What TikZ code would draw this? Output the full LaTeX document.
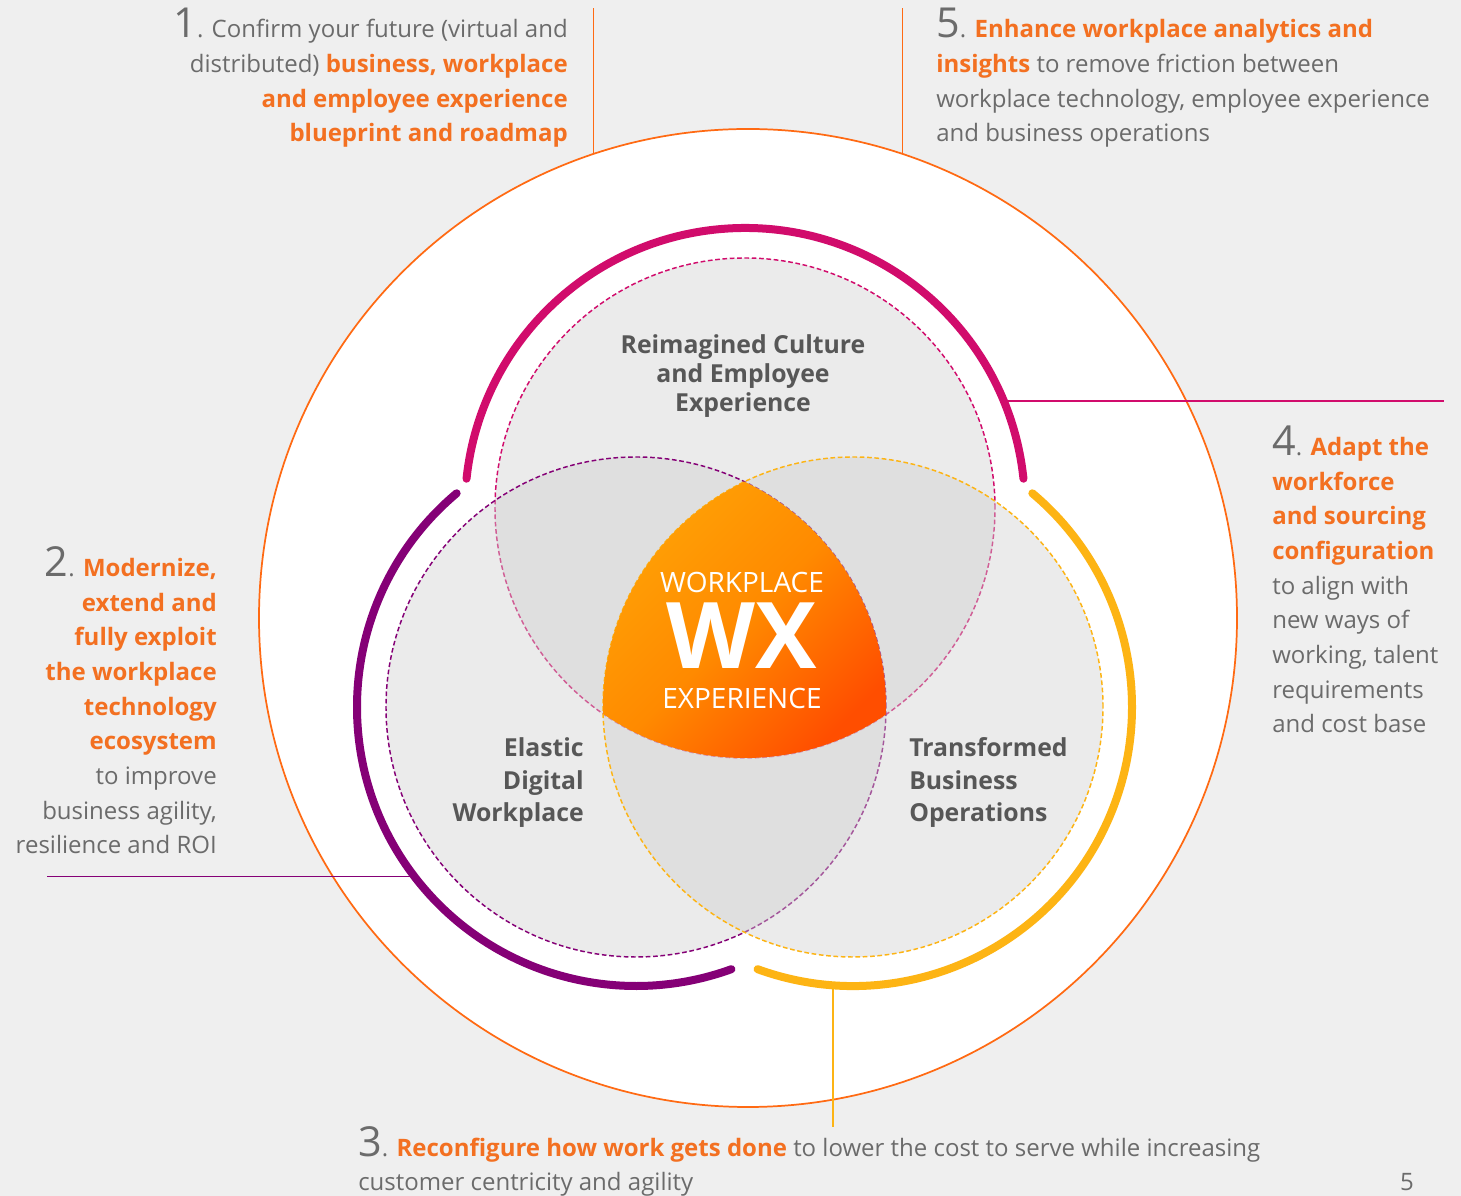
\documentclass[tikz,border=0pt]{standalone}
\usepackage{fontspec}
\setmainfont{Open Sans}
\usetikzlibrary{calc}

\definecolor{wxorange}{HTML}{F37021}
\definecolor{wxline}{HTML}{FF6A13}
\definecolor{wxgray}{HTML}{6B6B6B}
\definecolor{wxdark}{HTML}{575757}
\definecolor{wxmagenta}{HTML}{D10C6C}
\definecolor{wxpurple}{HTML}{850076}
\definecolor{wxyellow}{HTML}{FDB414}
\definecolor{wxbg}{HTML}{EFEFEF}
\definecolor{wxfill}{HTML}{D0D0D0}
\definecolor{wxamber}{HTML}{FFA206}
\definecolor{wxmid}{HTML}{FF8A00}
\definecolor{wxred}{HTML}{FF4E00}

\newcommand{\hot}[1]{{\bfseries\color{wxorange}#1}}
\newcommand{\stepno}[1]{{\fontsize{31}{26}\selectfont #1}}

\begin{document}
\begin{tikzpicture}[x=0.75pt, y=0.75pt,
    body/.style={inner sep=0pt, text=wxgray, font=\fontsize{18}{26}\selectfont},
    zone/.style={inner sep=0pt, text=wxdark, font=\bfseries\fontsize{18.6}{24.5}\selectfont},
    core/.style={inner sep=0pt, text=white, font=\fontsize{21}{21}\selectfont},
    venn/.style={line width=1.1pt, dash pattern=on 3.5pt off 2pt},
    ring/.style={line width=6pt, line cap=round},
    lead/.style={line width=1pt}]
    \fill[wxbg] (0,0) rectangle (1461,1196);
    \useasboundingbox (0,0) rectangle (1461,1196);

    \coordinate (O) at (748,578);
    \coordinate (T) at (745,688);
    \coordinate (L) at (636,489);
    \coordinate (R) at (853,489);

    \draw[wxline, line width=1.3pt, fill=white] (O) circle (489);

    % the three zones
    \fill[wxfill, fill opacity=0.42] (T) circle (250);
    \draw[wxmagenta, venn] (T) circle (250);
    \fill[wxfill, fill opacity=0.42] (L) circle (250);
    \draw[wxpurple, venn] (L) circle (250);
    \fill[wxfill, fill opacity=0.42] (R) circle (250);
    \draw[wxyellow, venn] (R) circle (250);

    % WX core
    \begin{scope}
        \clip (L) circle (250);
        \clip (R) circle (250);
        \clip (T) circle (250);
        \shade[top color=wxamber, bottom color=wxred, middle color=wxmid, shading angle=45] (600,435) rectangle (890,718);
    \end{scope}

    \draw[wxmagenta, ring] ($(T)+(6:280)$) arc[start angle=6, end angle=174, radius=280];
    \draw[wxpurple, ring] ($(L)+(130:279)$) arc[start angle=130, end angle=290, radius=279];
    \draw[wxyellow, ring] ($(R)+(-110:279)$) arc[start angle=-110, end angle=50, radius=279];

    \coordinate (k1) at ($(O)+(108.4:489)$);
    \coordinate (k5) at ($(O)+(71.6:489)$);
    \coordinate (k4) at ($(T)+(22.5:280)$);
    \coordinate (k2) at ($(L)+(217.5:279)$);
    \coordinate (k3) at ($(R)+(265.9:279)$);

    \draw[wxline, lead] (k1) -- (k1 |- 0,1188);
    \draw[wxline, lead] (k5) -- (k5 |- 0,1188);
    \draw[wxmagenta, lead] (k4) -- (k4 -| 1444,0);
    \draw[wxpurple, lead] (k2) -- (k2 -| 47,0);
    \draw[wxyellow, lead] (k3) -- (k3 |- 0,69);

    \node[zone, anchor=base, align=center, font=\bfseries\fontsize{18.6}{22}\selectfont] (z1) at (743,784)
        {Reimagined Culture\\ and Employee\\ Experience};
    \node[zone, anchor=base east, align=right] (z2) at (584,374) {Elastic\\ Digital\\ Workplace};
    \node[zone, anchor=base west, align=left] (z3) at (909,374) {Transformed\\ Business\\ Operations};

    \node[core, anchor=base] (c1) at (742,603) {WORKPLACE};
    \node[core, anchor=base, font=\bfseries\fontsize{69}{69}\selectfont] (c2) at (742,527) {WX};
    \node[core, anchor=base] (c3) at (742,487) {EXPERIENCE};

    \node[body, anchor=base east, align=right] (s1) at (568,1054)
        {\stepno{1}. Confirm your future (virtual and\\
         distributed) \hot{business, workplace}\\
         \hot{and employee experience}\\
         \hot{blueprint and roadmap}};
    \node[body, anchor=base west, align=left] (s5) at (936,1054)
        {\stepno{5}. \hot{Enhance workplace analytics and}\\
         \hot{insights} to remove friction between\\
         workplace technology, employee experience\\
         and business operations};
    \node[body, anchor=base west, align=left] (s4) at (1272,463)
        {\stepno{4}. \hot{Adapt the}\\ \hot{workforce}\\ \hot{and sourcing}\\ \hot{configuration}\\
         to align with\\ new ways of\\ working, talent\\ requirements\\ and cost base};
    \node[body, anchor=base east, align=right] (s2) at (217,342)
        {\stepno{2}. \hot{Modernize,}\\ \hot{extend and}\\ \hot{fully exploit}\\ \hot{the workplace}\\
         \hot{technology}\\ \hot{ecosystem}\\ to improve\\ business agility,\\ resilience and ROI};
    \node[body, anchor=base west, align=left] (s3) at (358,5)
        {\stepno{3}. \hot{Reconfigure how work gets done} to lower the cost to serve while increasing\\
         customer centricity and agility};
    \node[body, anchor=base east] (pg) at (1414,5) {5};
\end{tikzpicture}
\end{document}
